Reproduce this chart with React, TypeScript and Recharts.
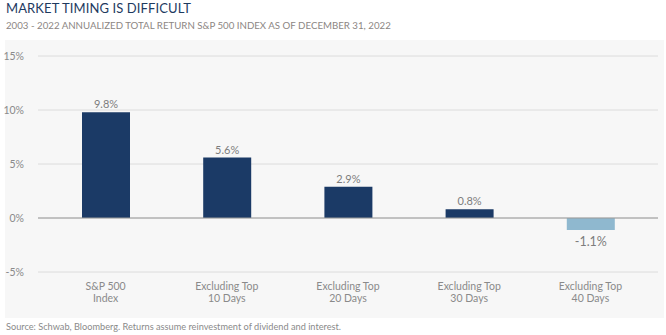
import { BarChart, Bar, XAxis, YAxis, CartesianGrid, ReferenceLine, LabelList, Cell } from "recharts";

const categories = ["S&P 500|Index", "Excluding Top|10 Days", "Excluding Top|20 Days", "Excluding Top|30 Days", "Excluding Top|40 Days"];
const returns = [9.8, 5.6, 2.9, 0.8, -1.1];
const yTicks = [-5, 0, 5, 10, 15];

const data = categories.map((name, i) => ({ name, value: returns[i] }));

const font = "Lato, 'Open Sans', sans-serif";

function CategoryTick({ x, y, payload }: any) {
  const lines = String(payload.value).split("|");
  return (
    <text x={x} y={y} textAnchor="middle" fill="#8a8a8a" fontSize={10.5} fontFamily={font}>
      {lines.map((l, i) => (
        <tspan key={i} x={x} dy={i === 0 ? 10 : 12}>{l}</tspan>
      ))}
    </text>
  );
}

function ValueLabel({ x, y, width, height, value }: any) {
  const neg = value < 0;
  const top = Math.min(y, y + height);
  const bottom = Math.max(y, y + height);
  return (
    <text
      x={x + width / 2}
      y={neg ? bottom + 16 : top - 4}
      textAnchor="middle"
      fill="#7d7d7d"
      fontSize={neg ? 12.5 : 11}
      fontFamily={font}
    >
      {value.toFixed(1)}%
    </text>
  );
}

export default function App() {
  return (
    <div style={{ position: "absolute", left: 0, top: 0, width: 666, height: 335, background: "#fff", fontFamily: font }}>
      <div style={{ position: "absolute", left: 6, top: 0, fontSize: 13, color: "#1e3a5f", letterSpacing: 0.1 }}>
        MARKET TIMING IS DIFFICULT
      </div>
      <div style={{ position: "absolute", left: 6, top: 19, fontSize: 9.7, color: "#8c8683" }}>
        2003 - 2022 ANNUALIZED TOTAL RETURN S&amp;P 500 INDEX AS OF DECEMBER 31, 2022
      </div>
      <div style={{ position: "absolute", left: 5, top: 40, width: 659, height: 278, background: "#f7f7f7" }} />
      <div style={{ position: "absolute", left: 0, top: 40, width: 664, height: 278 }}>
        <BarChart width={664} height={278} data={data} margin={{ top: 16, right: 6, bottom: 0, left: 0 }}>
          <CartesianGrid horizontal vertical={false} stroke="#dcdcdc" />
          <XAxis
            dataKey="name"
            axisLine={false}
            tickLine={false}
            tick={<CategoryTick />}
            height={46}
            padding={{ left: 7, right: 7 }}
            interval={0}
          />
          <YAxis
            domain={[-5, 15]}
            ticks={yTicks}
            width={38}
            axisLine={false}
            tickLine={false}
            tickMargin={8}
            tickFormatter={(v) => `${v}%`}
            tick={{ fill: "#8a8a8a", fontSize: 10.5, fontFamily: font }}
          />
          <ReferenceLine y={0} stroke="#9a9a9a" strokeWidth={1} />
          <Bar dataKey="value" barSize={48} isAnimationActive={false}>
            {data.map((d, i) => (
              <Cell key={i} fill={d.value < 0 ? "#8fb8cf" : "#1b3a66"} />
            ))}
            <LabelList dataKey="value" content={<ValueLabel />} />
          </Bar>
        </BarChart>
      </div>
      <div style={{ position: "absolute", left: 6, top: 321, fontSize: 9.2, color: "#8a8a8a" }}>
        Source: Schwab, Bloomberg. Returns assume reinvestment of dividend and interest.
      </div>
    </div>
  );
}
